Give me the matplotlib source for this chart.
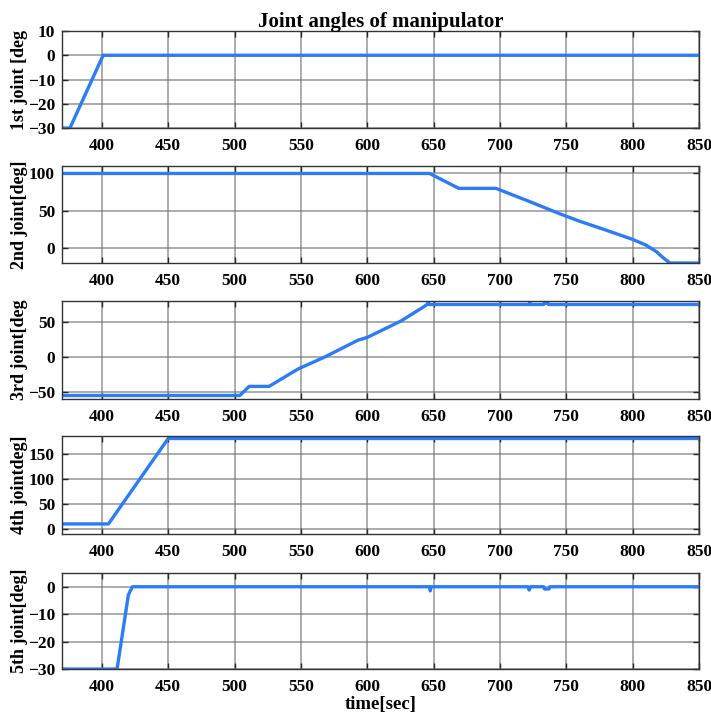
import numpy as np
import matplotlib
matplotlib.use('Agg')
import matplotlib.pyplot as plt

# joint trajectories (time in sec, angle in deg)
t1 = [370, 376, 401, 850]
q1 = [-30, -30, 0, 0]

t2 = [370, 647, 669, 697, 720, 745, 760, 780, 800, 810, 818, 823, 828, 850]
q2 = [100, 100, 80, 80, 64, 46, 36, 24, 11.6, 4, -5, -13, -20, -20]

t3 = [370, 504, 511, 526, 548, 568, 593, 600, 625, 642, 645, 646, 646.5, 647,
      722, 722.5, 723, 733, 733.5, 736, 736.5, 850]
q3 = [-55, -55, -42, -42, -17, 0, 24, 28, 51, 71, 75, 78, 75, 75,
      75, 78, 75, 75, 77, 77, 75, 75]

t4 = [370, 405, 450, 850]
q4 = [10, 10, 180, 180]

t5 = [370, 411.5, 420, 423, 647, 647.5, 648, 721, 722, 723, 733, 733.5, 737, 737.5, 850]
q5 = [-30, -30, -3, 0, 0, -1.5, 0, 0, -1.2, 0, 0, -0.8, -0.8, 0, 0]

ylabels = ['1st joint [deg', '2nd joint[deg]', '3rd joint[deg', '4th jointdeg]', '5th joint[deg]']
ylims = [(-30, 10), (-20, 110), (-60, 80), (-10, 185), (-30, 5)]
yticks = [[-30, -20, -10, 0, 10], [0, 50, 100], [-50, 0, 50], [0, 50, 100, 150], [-30, -20, -10, 0]]
xticks = [400, 450, 500, 550, 600, 650, 700, 750, 800, 850]

plt.rcParams['font.family'] = ['Liberation Serif', 'DejaVu Serif']
plt.rcParams['font.weight'] = 'bold'

fig = plt.figure(figsize=(7.11, 7.18), dpi=100)

# axes boxes in figure fractions (left, bottom, width, height)
boxes = [
    (0.0872, 0.8217, 0.896, 0.1351),
    (0.0872, 0.6337, 0.896, 0.1351),
    (0.0872, 0.4443, 0.896, 0.1365),
    (0.0872, 0.2563, 0.896, 0.1365),
    (0.0872, 0.0682, 0.896, 0.1337),
]
series = [(t1, q1), (t2, q2), (t3, q3), (t4, q4), (t5, q5)]

for i, (box, (t, q)) in enumerate(zip(boxes, series)):
    ax = fig.add_axes(box)
    ax.plot(t, q, color='#2b7cf6', lw=2.4, solid_joinstyle='round')
    ax.set_xlim(370, 850)
    ax.set_ylim(*ylims[i])
    ax.set_xticks(xticks)
    ax.set_yticks(yticks[i])
    ax.grid(True, color='#7a7a7a', lw=1.1, alpha=0.8)
    ax.tick_params(direction='in', top=True, right=True, labelsize=12.5,
                   length=4, width=1.0, colors='#262626')
    ax.tick_params(axis='x', pad=7)
    ax.tick_params(axis='y', pad=5)
    for lab in ax.get_xticklabels() + ax.get_yticklabels():
        lab.set_fontweight('bold')
        lab.set_color('black')
    for s in ax.spines.values():
        s.set_color('#333333')
        s.set_linewidth(1.0)
    ax.set_ylabel(ylabels[i], fontsize=13, fontweight='bold')
    ax.yaxis.set_label_coords(-0.054, 0.5)
    if i == 0:
        ax.set_title('Joint angles of manipulator', fontsize=15, fontweight='bold', pad=3)
    if i == 4:
        ax.set_xlabel('time[sec]', fontsize=13.5, fontweight='bold', labelpad=1)

fig.savefig('out.png', dpi=100)
